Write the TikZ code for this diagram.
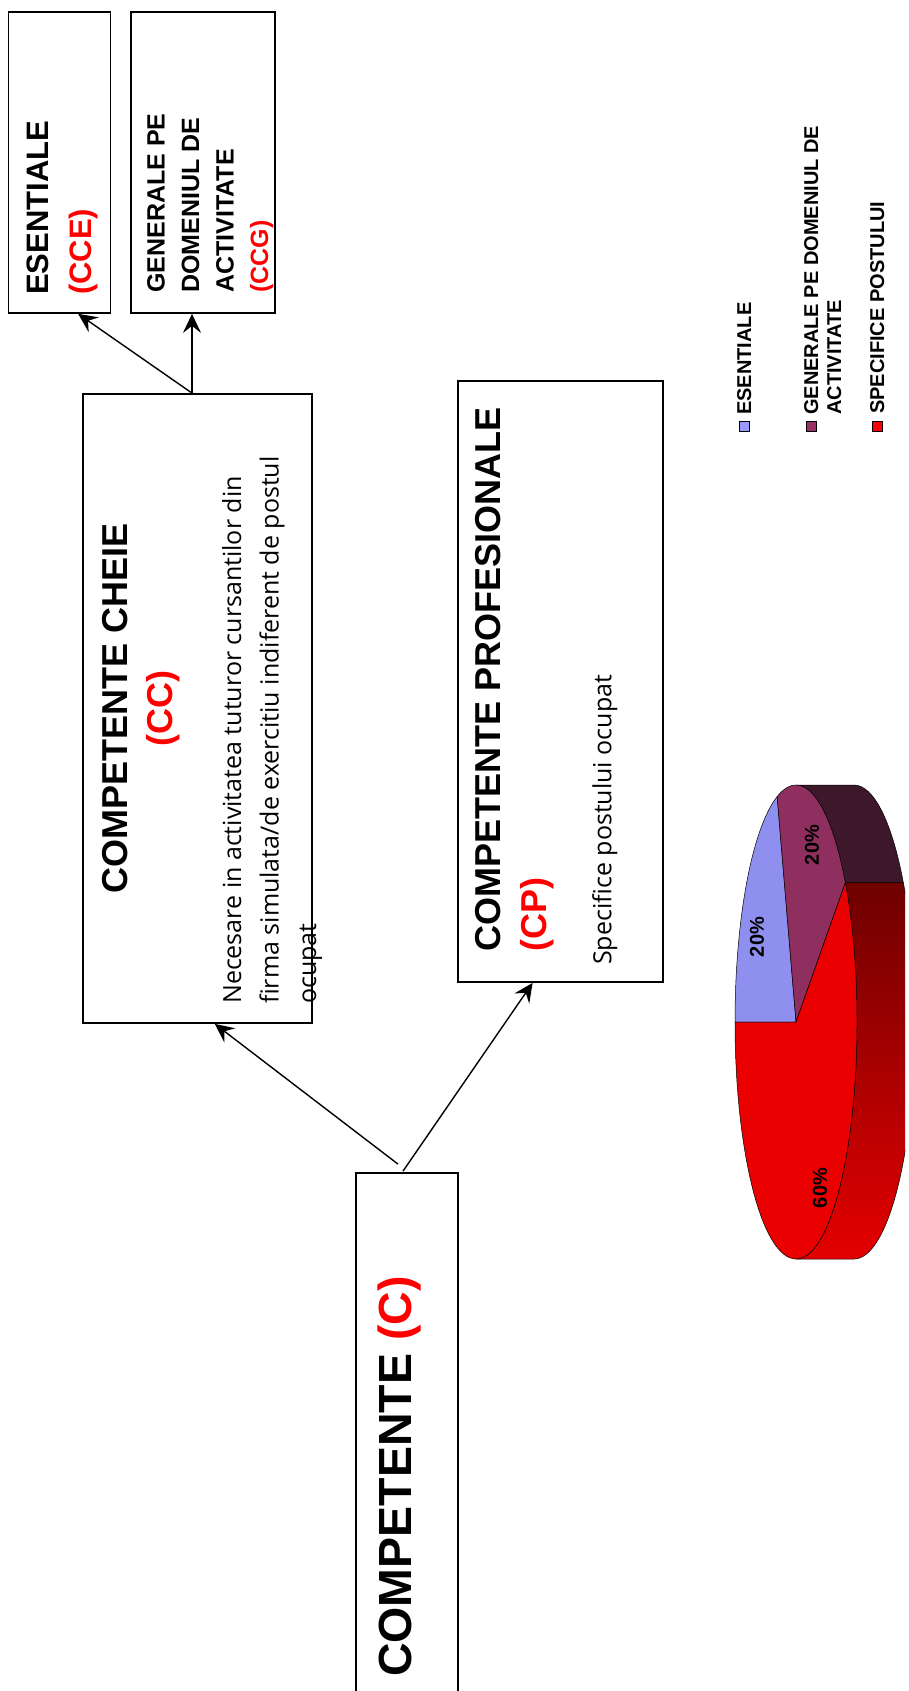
\documentclass[tikz,border=0pt]{standalone}
\usepackage{fontspec}
\setmainfont{Liberation Sans}
\newfontfamily\bodyfont{Open Sans}
\usetikzlibrary{arrows.meta,calc}

\definecolor{pieblue}{RGB}{143,143,239}
\definecolor{piepurple}{RGB}{143,47,95}
\definecolor{piered}{RGB}{234,0,0}
\definecolor{sidepurple}{RGB}{60,24,42}
\definecolor{sidetop}{RGB}{110,0,0}
\definecolor{sidebot}{RGB}{228,0,0}
\definecolor{legblue}{RGB}{153,153,255}
\definecolor{legpurple}{RGB}{153,51,102}

\begin{document}
\begin{tikzpicture}[x=1pt,y=-1pt,
        box/.style={draw,rectangle,line width=1.8pt,inner sep=0pt,rotate=90},
        txt/.style={inner sep=0pt,rotate=90,align=left,anchor=north west},
        arr/.style={-{Stealth[length=19pt,width=18pt,inset=7pt]},line width=1.4pt},
        legsq/.style={draw,line width=0.8pt,minimum size=10pt,inner sep=0pt},
        pct/.style={inner sep=0pt,rotate=90,font=\fontsize{20}{24}\selectfont\bfseries}]
   \useasboundingbox (0,0) rectangle (909,1691);
   \clip (0,0) rectangle (909,1691);

   \node (CCE) [box,minimum width=301pt,minimum height=102pt] at (59.5,162.5) {};
   \node (CCEt) [txt,font=\fontsize{31}{42.5}\selectfont\bfseries] at (27,295) {ESENTIALE\\\textcolor{red}{(CCE)}};

   \node (CCG) [box,minimum width=301pt,minimum height=144pt] at (203,162.5) {};
   \node (CCGt) [txt,font=\fontsize{25}{34.5}\selectfont\bfseries] at (147,293) {GENERALE PE\\DOMENIUL DE\\ACTIVITATE\\\textcolor{red}{(CCG)}};

   \node (CC) [box,minimum width=629pt,minimum height=229pt] at (197.5,708.5) {};
   \node (CCt) [txt,align=center,anchor=north,font=\fontsize{36}{45}\selectfont\bfseries] at (102,708.5) {COMPETENTE CHEIE\\\textcolor{red}{(CC)}};
   \node (CCd) [txt,font=\bodyfont\fontsize{25}{37.5}\selectfont] at (222,1004) {Necesare in activitatea tuturor cursantilor din\\firma simulata/de exercitiu indiferent de postul\\ocupat};

   \node (CP) [box,minimum width=601pt,minimum height=205pt] at (560.5,681.5) {};
   \node (CPt) [txt,font=\fontsize{36}{46}\selectfont\bfseries] at (475,952) {COMPETENTE PROFESIONALE\\\textcolor{red}{(CP)}};
   \node (CPd) [txt,font=\bodyfont\fontsize{25}{30}\selectfont] at (592,965) {Specifice postului ocupat};

   \node (C) [box,minimum width=606pt,minimum height=102pt] at (407,1476) {};
   \node (Ct) [txt,font=\fontsize{46.5}{50}\selectfont\bfseries] at (378,1677) {COMPETENTE \textcolor{red}{(C)}};

   \coordinate (CCtop) at ($(CC.east)+(-5.5,0)$);
   \coordinate (Ca) at ($(C.east)+(-9,-8)$);
   \coordinate (Cb) at ($(C.east)+(-4,-1)$);
   \draw[arr] (CCtop) -- ($(CCE.west)!0.36!(CCE.south west)$);
   \draw[arr] (CCtop) -- (CCtop |- CCG.west);
   \draw[arr] (Ca) -- ($(CC.west)!0.15!(CC.south west)$);
   \draw[arr] (Cb) -- ($(CP.west)!0.27!(CP.north west)$);

   % pie
   \begin{scope}
      \clip (700,700) rectangle (905,1300);
      \filldraw[fill=sidepurple,line width=0.5pt] (796,785) arc[start angle=270,end angle=324,x radius=61,y radius=237]
         -- ++(58,0) arc[start angle=324,end angle=270,x radius=61,y radius=237] -- cycle;
      \shadedraw[top color=sidetop,bottom color=sidebot,line width=0.5pt] ({796+61*cos(324)},{1022+237*sin(324)}) arc[start angle=324,end angle=450,x radius=61,y radius=237]
         -- ++(58,0) arc[start angle=450,end angle=324,x radius=61,y radius=237] -- cycle;
   \end{scope}
   \filldraw[fill=pieblue,line width=0.5pt] (796,1022) -- (735,1022) arc[start angle=180,end angle=252,x radius=61,y radius=237] -- cycle;
   \filldraw[fill=piepurple,line width=0.5pt] (796,1022) -- ({796+61*cos(252)},{1022+237*sin(252)}) arc[start angle=252,end angle=324,x radius=61,y radius=237] -- cycle;
   \filldraw[fill=piered,line width=0.5pt] (796,1022) -- ({796+61*cos(324)},{1022+237*sin(324)}) arc[start angle=324,end angle=540,x radius=61,y radius=237] -- cycle;
   \node (pA) [pct] at (757,937) {20\%};
   \node (pB) [pct] at (812,845) {20\%};
   \node (pC) [pct] at (820,1188) {60\%};

   % legend
   \node (lgA) [legsq,fill=legblue] at (744,426) {};
   \node (lgB) [legsq,fill=legpurple] at (811,426) {};
   \node (lgC) [legsq,fill=red] at (877,426) {};
   \node (lgAt) [txt,font=\fontsize{20}{23}\selectfont\bfseries] at (737,415) {ESENTIALE};
   \node (lgBt) [txt,font=\fontsize{20}{23}\selectfont\bfseries] at (804,415) {GENERALE PE DOMENIUL DE\\ACTIVITATE};
   \node (lgCt) [txt,font=\fontsize{20}{23}\selectfont\bfseries] at (870,414) {SPECIFICE POSTULUI};
\end{tikzpicture}
\end{document}
